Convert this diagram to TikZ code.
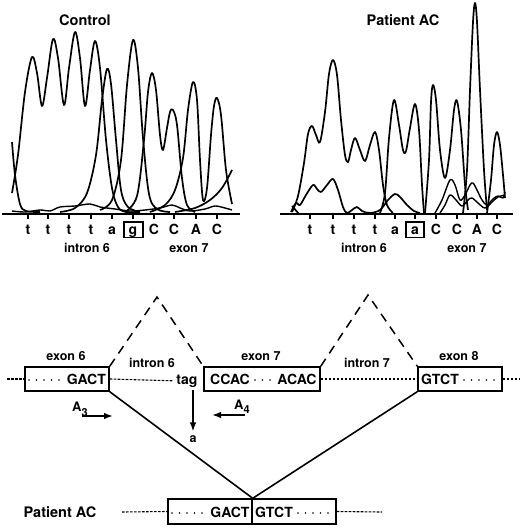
\documentclass[tikz,border=0pt]{standalone}
\usepackage{fontspec}
\setmainfont{TeX Gyre Heros}
\usetikzlibrary{arrows.meta}
\begin{document}
\begin{tikzpicture}[x=1pt,y=-1pt,
  trace/.style={line width=1.7pt, line join=round},
  lowtrace/.style={line width=1.4pt, line join=round},
  axis/.style={line width=1.4pt},
  seq/.style={font=\fontsize{14}{14}\selectfont\bfseries, inner sep=0pt, anchor=base},
  lab/.style={font=\fontsize{12.5}{12.5}\selectfont\bfseries, inner sep=0pt, anchor=base},
  ttl/.style={font=\fontsize{14.5}{14.5}\selectfont\bfseries, inner sep=0pt, anchor=base},
  boxtxt/.style={font=\fontsize{14}{14}\selectfont\bfseries, inner sep=0pt, anchor=base},
  exon/.style={draw, line width=1.4pt, minimum height=24pt, inner sep=0pt},
  seqbox/.style={draw, line width=1.3pt},
  dots/.style={line width=1.8pt, line cap=round, dash pattern=on 0pt off 7.5pt},
  thindash/.style={line width=1.1pt, dash pattern=on 2.6pt off 1.4pt},
  vdash/.style={line width=1.5pt, dash pattern=on 9pt off 6.5pt},
  solid line/.style={line width=1.6pt},
  arr/.style={line width=1.5pt, -{Latex[length=9pt,width=6.5pt]}}
]
\useasboundingbox (0,0) rectangle (520,526);

% ================= Control chromatogram =================
\node[ttl] (tc) at (85,26) {Control};
\draw[axis] (2,214) -- (240,214);
\foreach \x in {28,48,69,91,112,133,154,174,196,217}
  \draw[line width=1.2pt] (\x,214) -- (\x,219);
\foreach \x/\s in {28/t,48/t,69/t,91/t,112/a,154/C,174/C,196/A,217/C}
  \node[seq] at (\x,234) {\s};
\node[seq] (cg) at (133,234) {g};
\draw[seqbox] (124,222) rectangle (143,237.5);
\node[lab] at (87,252.5) {intron 6};
\node[lab] at (189,252.5) {exon 7};

\draw[trace] plot[smooth, tension=0.55] coordinates {(12,193) (18,155) (25,92) (32,57) (37,73) (42,106) (47,78) (53,39) (58,58) (64,105) (69,68) (75,32) (80,58) (85,106) (90,70) (95,41) (100,68) (106,140) (112,188) (118,207) (126,212) (140,212)};
\draw[trace] plot[smooth, tension=0.55] coordinates {(12,142) (15,175) (20,204) (26,211) (40,212)};
\draw[trace] plot[smooth, tension=0.55] coordinates {(60,212) (75,208) (87,193) (96,155) (102,100) (107,69) (111,84) (116,140) (121,190) (128,207) (140,212)};
\draw[trace] plot[smooth, tension=0.55] coordinates {(100,210) (112,200) (121,160) (127,85) (133,40) (138,68) (143,138) (149,194) (157,209) (170,212)};
\draw[trace] plot[smooth, tension=0.55] coordinates {(125,212) (137,196) (144,140) (148,92) (152,73) (156,90) (160,135) (163,150) (167,128) (170,112) (173,110) (177,125) (182,178) (187,205) (195,212)};
\draw[trace] plot[smooth, tension=0.55] coordinates {(150,212) (165,205) (175,190) (183,158) (188,110) (193,82) (197,100) (200,160) (203,200) (207,188) (211,135) (214,106) (217,98) (221,115) (226,170) (232,204)};
\draw[trace] plot[smooth, tension=0.55] coordinates {(175,212) (195,208) (210,200) (222,188) (232,170)};
\draw[lowtrace] plot[smooth, tension=0.55] coordinates {(12,211) (25,212) (40,210) (50,211) (60,207) (75,206) (90,204) (100,207) (115,209) (130,211) (145,210) (160,208) (172,205) (180,208) (190,211) (205,209) (215,206) (225,208) (232,210)};

% ================= Patient AC chromatogram =================
\node[ttl] (tp) at (403,26) {Patient AC};
\draw[axis] (280,214) -- (513,214);
\foreach \x in {310,333,354,375,395,415,436,457,477,497}
  \draw[line width=1.2pt] (\x,214) -- (\x,219);
\foreach \x/\s in {310/t,333/t,354/t,375/t,395/a,436/C,457/C,477/A,497/C}
  \node[seq] at (\x,234) {\s};
\node[seq] (pa) at (415,234) {a};
\draw[seqbox] (406,222) rectangle (424,237.5);
\node[lab] at (364,252.5) {intron 6};
\node[lab] at (467,252.5) {exon 7};

\draw[trace] plot[smooth, tension=0.55] coordinates {(292,212) (298,196) (304,163) (308,134) (312,126) (316,135) (320,142) (325,112) (329,74) (333,60) (337,75) (341,120) (345,155) (348,162) (351,150) (355,138) (360,150) (365,161) (370,145) (375,132) (379,150) (383,185) (387,205) (393,213)};
\draw[trace] plot[smooth, tension=0.55] coordinates {(380,213) (385,193) (389,138) (394,100) (399,125) (403,150) (406,151) (410,128) (415,104) (419,130) (422,185) (424,213)};
\draw[trace] plot[smooth, tension=0.55] coordinates {(425,213) (429,160) (431,102) (433,85) (436,100) (440,150) (445,178) (450,150) (454,110) (457,101) (461,130) (465,185) (468,210)};
\draw[trace] plot[smooth, tension=0.55] coordinates {(463,213) (467,170) (470,90) (473,22) (475,3) (477,22) (480,90) (484,170) (487,210)};
\draw[trace] plot[smooth, tension=0.55] coordinates {(487,213) (491,180) (494,145) (497,132) (500,145) (503,175) (505,198)};
\draw[trace] plot[smooth, tension=0.55] coordinates {(291,212) (296,203) (300,205) (306,195) (313,185) (317,189) (321,192) (327,185) (333,179) (338,190) (343,207) (347,213) (352,210) (357,207) (362,211) (370,213) (380,210) (388,200) (395,194) (400,197) (407,205) (414,211) (420,213)};
\draw[trace] (292,206) -- (299,214);
\draw[lowtrace] plot[smooth, tension=0.55] coordinates {(435,213) (442,200) (450,180) (455,185) (460,200) (465,195) (470,185) (473,183) (477,190) (482,200) (487,205) (493,199) (498,196) (503,198) (505,192)};
\draw[lowtrace] plot[smooth, tension=0.55] coordinates {(440,213) (445,205) (450,195) (456,200) (462,206) (468,200) (472,198) (478,203) (485,208) (492,202) (498,197) (505,195)};

% ================= Gene structure =================
\node[exon, minimum width=84pt] (e6) at (67,379) {};
\node[exon, minimum width=116pt] (e7) at (262,379) {};
\node[exon, minimum width=84pt] (e8) at (460,379) {};
\node[lab] at (66,360.5) {exon 6};
\node[lab] at (261,360.5) {exon 7};
\node[lab] at (459,360.5) {exon 8};
\node[lab] at (152,367.5) {intron 6};
\node[lab] at (367,367.5) {intron 7};

\node[boxtxt, anchor=base east] at (106,384) {GACT};
\draw[dots] (29,380) -- (60,380);
\node[boxtxt] at (230,384) {CCAC};
\draw[dots] (255,380) -- (271,380);
\node[boxtxt] at (297,384) {ACAC};
\node[boxtxt] at (440,384) {GTCT};
\draw[dots] (464,380) -- (498,380);
\node[boxtxt, inner sep=3pt] (tag) at (187,384) {tag};

\coordinate (lend) at (7,379);
\coordinate (rend) at (520,379);
\draw[thindash] (lend) -- (e6.west);
\draw[thindash] (e6.east) -- (tag.west);
\draw[thindash] (e7.east) -- (e8.west);
\draw[thindash] (e8.east) -- (rend);

\coordinate (ap6) at (157,297);
\coordinate (ap7) at (368,295);
\draw[vdash] (e6.north east) -- (ap6) -- (e7.north west);
\draw[vdash] (e7.north east) -- (ap7) -- (e8.north west);

% mutation arrow
\node[lab, inner sep=3.5pt] (mut) at (193,442) {a};
\draw[arr] (tag.south -| mut.north) -- (mut.north);

% primers
\node[anchor=base west, inner sep=0pt, font=\fontsize{13}{13}\selectfont\bfseries] (A3) at (72,411) {A\raisebox{-5pt}{\fontsize{11}{11}\selectfont 3}};
\node[anchor=base west, inner sep=0pt, font=\fontsize{13}{13}\selectfont\bfseries] (A4) at (234,409) {A\raisebox{-4pt}{\fontsize{11}{11}\selectfont 4}};
\coordinate (a3s) at (82,416);
\coordinate (a3e) at (113,416);
\coordinate (a4s) at (245,415);
\coordinate (a4e) at (212,415);
\draw[arr] (a3s) -- (a3e);
\draw[arr] (a4s) -- (a4e);

% patient transcript
\node[exon, minimum width=84pt, minimum height=25pt] (p1) at (210,511.5) {};
\node[exon, minimum width=84pt, minimum height=25pt] (p2) at (294,511.5) {};
\node[boxtxt] at (230,517) {GACT};
\node[boxtxt] at (274,517) {GTCT};
\draw[dots] (172,513) -- (204,513);
\draw[dots] (298,513) -- (330,513);
\coordinate (plend) at (122,512);
\coordinate (prend) at (382,512);
\draw[thindash] (plend) -- (p1.west);
\draw[thindash] (p2.east) -- (prend);
\node[ttl] (pac) at (60,517) {Patient AC};

\draw[solid line] (e6.south east) -- (p1.north east);
\draw[solid line] (e8.south west) -- (p1.north east);
\end{tikzpicture}
\end{document}
